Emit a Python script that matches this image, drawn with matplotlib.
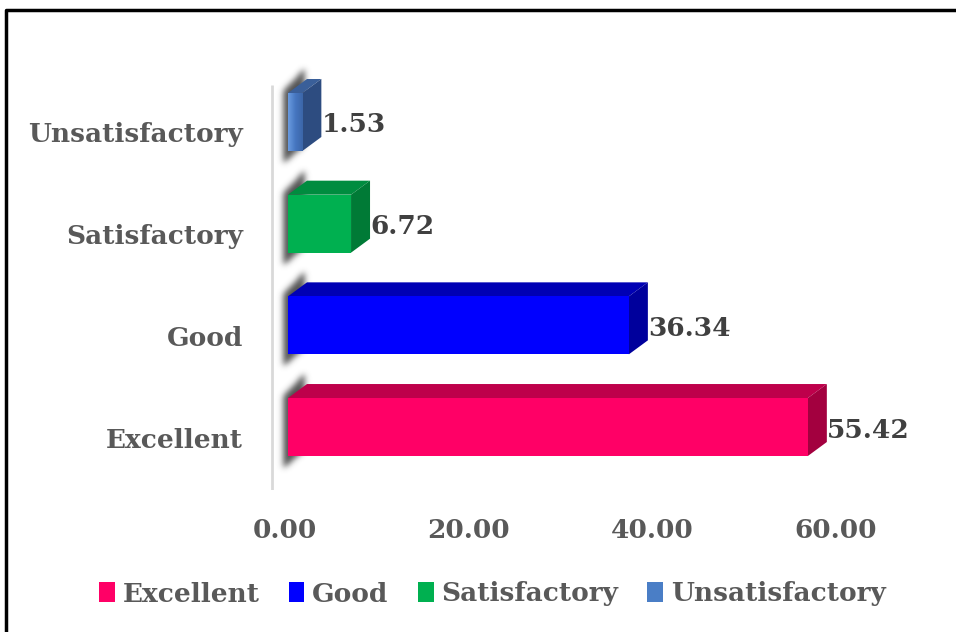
import numpy as np
import matplotlib.pyplot as plt
from matplotlib.patches import Polygon, Rectangle, Patch
from matplotlib.path import Path
from matplotlib.colors import LinearSegmentedColormap

categories = ['Excellent', 'Good', 'Satisfactory', 'Unsatisfactory']
values = [55.42, 36.34, 6.72, 1.53]
front_colors = ['#FF0066', '#0000FF', '#00B050', '#4A7EC6']
top_colors = ['#BE004B', '#0000B4', '#008C3F', '#3A5F99']
side_colors = ['#A3003F', '#00009C', '#007A36', '#2D4C80']
tick_values = [0, 20, 40, 60]

plt.rcParams['font.family'] = ['DejaVu Serif']
plt.rcParams['font.weight'] = 'bold'
FS = 19

W, H = 956, 632
fig = plt.figure(figsize=(W / 100, H / 100), dpi=100)

# axes placed in pixels so the 3d offsets can be given in data units
x_left, x_zero, px_per_unit = 259.9, 288.0, 9.38
y_top, y_bot, row_px = 60.0, 490.0, 101.7
xmin = -(x_zero - x_left) / px_per_unit
xmax = 70
ymin = -(y_bot - 427) / row_px
ymax = 3 + (122 - y_top) / row_px
ax = fig.add_axes([x_left / W, 1 - y_bot / H,
                   (xmax - xmin) * px_per_unit / W, (y_bot - y_top) / H])
ypos = np.arange(len(categories))
for s in ax.spines.values():
    s.set_visible(False)
ax.set_xticks([])
ax.set_yticks([])

bar_h = 58 / row_px
dx = 19 / px_per_unit
dy = 14 / row_px
px = 1 / px_per_unit
py = 1 / row_px

# back wall line
ax.plot([-1.7, -1.7], [-0.62, 3.36], color='#D9D9D9', lw=2, zorder=1,
        solid_capstyle='butt')


def blurred_shadow(poly, x_ext, y_ext, sigma=3.0):
    # rasterise the polygon on a 1px grid and soften it with a gaussian
    nx = int((x_ext[1] - x_ext[0]) / px)
    ny = int((y_ext[1] - y_ext[0]) / py)
    xs = np.linspace(x_ext[0], x_ext[1], nx)
    ys = np.linspace(y_ext[0], y_ext[1], ny)
    gx, gy = np.meshgrid(xs, ys)
    inside = Path(poly).contains_points(np.c_[gx.ravel(), gy.ravel()])
    mask = inside.reshape(ny, nx).astype(float)
    r = np.arange(-10, 11)
    k = np.exp(-r ** 2 / (2 * sigma ** 2))
    k /= k.sum()
    mask = np.apply_along_axis(lambda m: np.convolve(m, k, mode='same'), 1, mask)
    mask = np.apply_along_axis(lambda m: np.convolve(m, k, mode='same'), 0, mask)
    rgba = np.zeros((ny, nx, 4))
    rgba[..., :3] = 0.25
    rgba[..., 3] = mask * 0.9
    ax.imshow(rgba, extent=(x_ext[0], x_ext[1], y_ext[0], y_ext[1]),
              origin='lower', aspect='auto', zorder=2, interpolation='bilinear')


for i, v in enumerate(values):
    y0 = ypos[i] - bar_h / 2
    y1 = ypos[i] + bar_h / 2
    shadow = [(-5 * px, y0 - 13 * py), (-5 * px, y1 + 2 * py),
              (dx - 2 * px, y1 + dy + 11 * py), (dx - 2 * px, y0 + dy - 8 * py)]
    blurred_shadow(shadow, (-20 * px, dx + 12 * px),
                   (y0 - 30 * py, y1 + dy + 30 * py))
    top = [(0, y1), (v, y1), (v + dx, y1 + dy), (dx, y1 + dy)]
    side = [(v, y0), (v, y1), (v + dx, y1 + dy), (v + dx, y0 + dy)]
    ax.add_patch(Polygon(top, closed=True, facecolor=top_colors[i],
                         edgecolor='none', zorder=3))
    ax.add_patch(Polygon(side, closed=True, facecolor=side_colors[i],
                         edgecolor='none', zorder=3))
    if categories[i] == 'Unsatisfactory':
        grad = np.linspace(0, 1, 50).reshape(1, -1)
        cm = LinearSegmentedColormap.from_list('bl', ['#6A9BE0', '#4676C0', '#3C66A8'])
        ax.imshow(grad, cmap=cm, aspect='auto', extent=(0, v, y0, y1),
                  zorder=3.5, interpolation='bicubic')
    else:
        ax.add_patch(Rectangle((0, y0), v, bar_h, facecolor=front_colors[i],
                               edgecolor='none', zorder=3.5))
    ax.text(v + dx, ypos[i] - 3 * py, f'{v:.2f}', ha='left', va='center',
            fontsize=FS, color='#404040', fontweight='bold', zorder=5)
    ax.text(-45 * px, ypos[i] - 13 * py, categories[i],
            ha='right', va='center', fontsize=FS, color='#595959',
            fontweight='bold')

ax.set_xlim(xmin, xmax)
ax.set_ylim(ymin, ymax)

# value axis labels sit on the floor plane, a slightly different scale
lab_zero, lab_px = 285.0, 9.17
def to_floor(x):
    return (np.asarray(x) * px_per_unit + (x_zero - lab_zero)) / lab_px
def from_floor(v):
    return (np.asarray(v) * lab_px - (x_zero - lab_zero)) / px_per_unit
sec = ax.secondary_xaxis('bottom', functions=(to_floor, from_floor))
sec.set_xticks(tick_values)
sec.set_xticklabels([f'{t:.2f}' for t in tick_values])
sec.tick_params(length=0, pad=20, labelsize=FS, labelcolor='#595959')
sec.spines['bottom'].set_visible(False)

handles = [Patch(facecolor=c, edgecolor='none') for c in front_colors]
leg = fig.legend(handles, categories, loc='center', ncol=4,
                 bbox_to_anchor=(0.515, 1 - 594 / H), frameon=False,
                 fontsize=FS, handlelength=0.6, handleheight=0.8,
                 handletextpad=0.3, columnspacing=1.1)
for t in leg.get_texts():
    t.set_color('#595959')

# frame line along the left and top edges
fig.add_artist(plt.Line2D([6 / W, 6 / W, 1.01], [-0.01, 1 - 10 / H, 1 - 10 / H],
                          transform=fig.transFigure, color='black', lw=2.5))

fig.savefig('out.png', dpi=100)
